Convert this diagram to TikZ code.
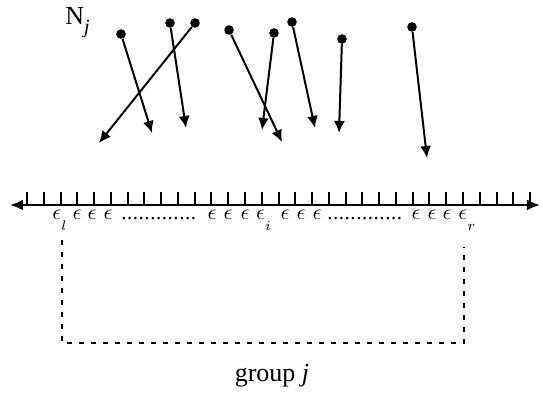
\documentclass[tikz,border=0pt]{standalone}
\usepackage{fontspec}
\setmainfont{Liberation Serif}
\usepackage{tikz}
\usetikzlibrary{arrows.meta,positioning}

\newcommand{\lowsub}[1]{\raisebox{-3.6pt}{$\scriptstyle #1$}}
\newcommand{\dotrun}[1]{\makebox[#1]{\leaders\hbox to 2.9pt{\hss.\hss}\hfill}}

\begin{document}
\begin{tikzpicture}[x=0.5pt,y=-0.5pt,
			dot node/.style={
				circle, fill=black, inner sep=0pt, minimum size=4.8pt},
			eps node/.style={
				inner sep=0pt, anchor=base,
				font=\fontsize{10.5}{12}\selectfont},
			label node/.style={
				inner sep=0pt, font=\fontsize{13}{15}\selectfont}
			]
			\useasboundingbox (0,0) rectangle (543,395);

			% falling objects
			\node[dot node] (d1) at (121,34) {};
			\node[dot node] (d2) at (170,23) {};
			\node[dot node] (d3) at (195,23) {};
			\node[dot node] (d4) at (229,30) {};
			\node[dot node] (d5) at (274,33) {};
			\node[dot node] (d6) at (292,22) {};
			\node[dot node] (d7) at (342,39) {};
			\node[dot node] (d8) at (412,27) {};
			\coordinate (t1) at (152,133);
			\coordinate (t2) at (186,128);
			\coordinate (t3) at (99,143);
			\coordinate (t4) at (282,142);
			\coordinate (t5) at (262,130);
			\coordinate (t6) at (315,128);
			\coordinate (t7) at (339,133);
			\coordinate (t8) at (427,158);

			\path[line width=1pt,-{Latex[length=6pt,width=5.5pt]}]
			(d1) edge (t1)
			(d2) edge (t2)
			(d3) edge (t3)
			(d4) edge (t4)
			(d5) edge (t5)
			(d6) edge (t6)
			(d7) edge (t7)
			(d8) edge (t8);

			\node[label node,anchor=base west] (nj) at (65,25)
			{N\raisebox{-4.5pt}{\fontsize{10}{12}\selectfont\textit{j}}};

			% the axis and its ticks
			\coordinate (axl) at (10,205);
			\coordinate (axr) at (540,205);
			\draw[line width=1.4pt,{Latex[length=6.5pt,width=5.5pt]}-{Latex[length=6.5pt,width=5.5pt]}]
			(axl) -- (axr);
			\foreach \i in {0,...,30}
			\draw[line width=1pt] (27+16.77*\i,205) -- (27+16.77*\i,192);

			% cells
			\node[eps node] (el) at (60,220) {$\epsilon_{\lowsub{l}}$};
			\foreach \x in {77,92,108,212,228,245,285,301,317,416,432,447}
			\node[eps node] (e\x) at (\x,220) {$\epsilon$};
			\node[eps node] (ei) at (264,220) {$\epsilon_{\lowsub{i}}$};
			\node[eps node,anchor=base west] (er) at (458,220) {$\epsilon_{\lowsub{r}}$};
			\node[eps node] (ra) at (161,220) {\dotrun{40pt}};
			\node[eps node] (rb) at (367,220) {\dotrun{40pt}};

			% group j
			\coordinate (gl) at (62,240);
			\coordinate (gr) at (464,247);
			\draw[line width=1.2pt,dash pattern=on 2.6pt off 3.4pt]
			(gl) -- (62,343) -- (464,343) -- (gr);
			\node[label node,anchor=base] (grp) at (272,382) {group \textit{j}};
		\end{tikzpicture}
\end{document}
